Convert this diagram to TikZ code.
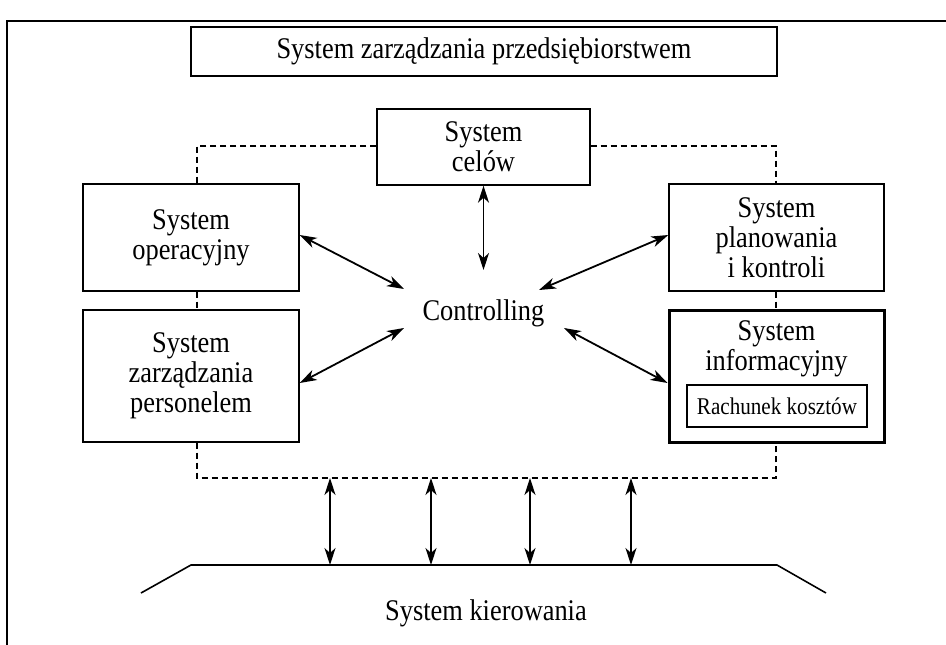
\documentclass[tikz,border=0pt]{standalone}
\usepackage{fontspec}
\setmainfont{Liberation Serif}[FakeStretch=0.88]
\usetikzlibrary{arrows.meta}
\begin{document}
\begin{tikzpicture}[x=1pt,y=-1pt,
  box/.style={draw,line width=1.4pt,inner sep=0pt,align=center,font=\fontsize{30}{30}\selectfont},
  thickbox/.style={draw,line width=3pt,inner sep=0pt},
  lbl/.style={inner sep=0pt,align=center,font=\fontsize{30}{30}\selectfont},
  dsh/.style={line width=1.3pt,dash pattern=on 6pt off 4pt},
  tip/.style={Stealth[length=17pt,width=11pt,inset=5pt]},
  biarrow/.style={line width=1.3pt,{Stealth[length=17pt,width=11pt,inset=5pt]}-{Stealth[length=17pt,width=11pt,inset=5pt]}},
  diagarrow/.style={biarrow,line width=1.8pt},
  frame/.style={line width=2pt}]
\useasboundingbox (0,0) rectangle (946,645);
% frame
\coordinate (fbl) at (7,645);
\coordinate (ftl) at (7,21);
\coordinate (ftr) at (946,21);
\draw[frame] (fbl) -- (ftl) -- (ftr);
% boxes
\node[box,minimum width=586pt,minimum height=49pt] (top) at (484,51.5) {System zarządzania przedsiębiorstwem};
\node[box,minimum width=213pt,minimum height=76pt] (cel) at (483.5,147) {System\\celów};
\node[box,minimum width=216pt,minimum height=107pt] (ope) at (191,237.5) {System\\operacyjny};
\node[box,minimum width=215pt,minimum height=107pt] (pla) at (776.5,237.5) {System\\planowania\\i kontroli};
\node[box,minimum width=216pt,minimum height=132pt] (per) at (191,376) {System\\zarządzania\\personelem};
\node[thickbox,minimum width=215pt,minimum height=132pt] (inf) at (776.5,376) {};
\node[lbl] (inft) at (776.5,349) {System\\informacyjny};
\node[draw,line width=1.3pt,minimum width=180pt,minimum height=42pt,inner sep=0pt,font=\fontsize{24}{28}\selectfont] (rach) at (777,406) {Rachunek kosztów};
\node[lbl] (ctrl) at (483.5,313) {Controlling};
% dashed connections
\coordinate (d1) at (197,146);
\coordinate (d2) at (776,146);
\coordinate (d3) at (197,478);
\coordinate (d4) at (776,478);
\draw[dsh] (cel.west |- d1) -- (d1) -- (d1 |- ope.north);
\draw[dsh] (cel.east |- d2) -- (d2) -- (d2 |- pla.north);
\draw[dsh] (d1 |- ope.south) -- (d1 |- per.north);
\draw[dsh] (d2 |- pla.south) -- (d2 |- inf.north);
\draw[dsh] (d1 |- per.south) -- (d3) -- (d4) -- (d2 |- inf.south);
% arrows to Controlling
\coordinate (a1) at (404,289);
\coordinate (a2) at (539,290);
\coordinate (a3) at (404,328);
\coordinate (a4) at (564,328);
\coordinate (a5) at (483.5,270);
\draw[biarrow] (cel.south) -- (a5);
\draw[diagarrow] (ope.east |- 0,235) -- (a1);
\draw[diagarrow] (pla.west |- 0,235) -- (a2);
\draw[diagarrow] (per.east |- 0,383) -- (a3);
\draw[diagarrow] (inf.west |- 0,383) -- (a4);
% bottom
\coordinate (t1) at (141,593);
\coordinate (t2) at (191,565);
\coordinate (t3) at (777,565);
\coordinate (t4) at (826,593);
\draw[line width=1.6pt] (t1) -- (t2) -- (t3) -- (t4);
\foreach \i/\x in {1/330,2/431,3/530,4/631}{
  \coordinate (u\i) at (\x,478);
  \coordinate (v\i) at (\x,565);
  \draw[biarrow] (u\i) -- (v\i);
}
\node[lbl] (kier) at (486,613) {System kierowania};
\end{tikzpicture}
\end{document}
